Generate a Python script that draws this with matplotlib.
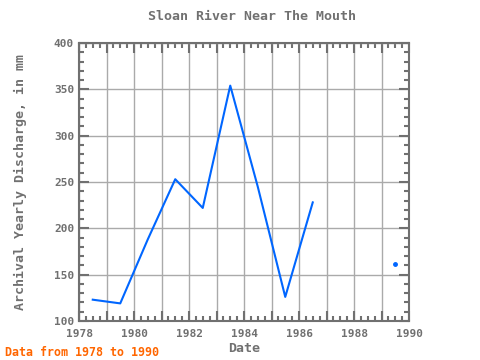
import matplotlib
matplotlib.use("Agg")
import matplotlib.pyplot as plt
import numpy as np
from matplotlib.ticker import MultipleLocator, FuncFormatter

years_a = [1978.5, 1979.5, 1980.5, 1981.5, 1982.5, 1983.5, 1984.5, 1985.5, 1986.5]
values_a = [123, 119, 188, 253, 222, 354, 245, 126, 228]
years_b = [1989.5]
values_b = [161]

grey = "#707070"
blue = "#0066ff"
font = "DejaVu Sans Mono"

fig = plt.figure(figsize=(4.8, 3.6), dpi=100)
ax = fig.add_axes([79/480, 1-321/360, 330/480, 278/360])

ax.plot(years_a, values_a, color=blue, lw=1.5, zorder=3)
ax.plot(years_b, values_b, "o", color=blue, ms=2.5, zorder=3)

ax.set_xlim(1978, 1990)
ax.set_ylim(100, 400)
ax.xaxis.set_major_locator(MultipleLocator(1))
ax.xaxis.set_major_formatter(FuncFormatter(lambda v, p: f"{int(round(v))}" if int(round(v)) % 2 == 0 else ""))
ax.xaxis.set_minor_locator(MultipleLocator(0.25))
ax.yaxis.set_major_locator(MultipleLocator(50))
ax.yaxis.set_minor_locator(MultipleLocator(10))
ax.grid(which="major", color="#aaaaaa", lw=1, zorder=1)

for s in ax.spines.values():
    s.set_color(grey)
    s.set_linewidth(1.5)

ax.tick_params(which="both", direction="in", top=True, right=True, colors=grey,
               labelsize=8, width=1.5)
ax.tick_params(which="major", length=7)
ax.tick_params(which="minor", length=3.5)
ax.tick_params(axis="x", which="major", pad=6)
for lab in ax.get_xticklabels() + ax.get_yticklabels():
    lab.set_fontfamily(font)
    lab.set_fontweight("bold")
    lab.set_color(grey)

ax.set_xlabel("Date", fontfamily=font, fontweight="bold", color=grey, fontsize=9.5, labelpad=2)
ax.set_ylabel("Archival Yearly Discharge, in mm", fontfamily=font, fontweight="bold",
              color=grey, fontsize=9.5, labelpad=19)
fig.text(252/480, 1-17/360, "Sloan River Near The Mouth", ha="center", va="center",
         fontfamily=font, fontweight="bold", color=grey, fontsize=9.5)
fig.text(5/480, 1-352/360, "Data from 1978 to 1990", ha="left", va="center",
         fontfamily=font, fontweight="bold", color="#ff6600", fontsize=8.4)

fig.savefig("out.png", dpi=100)
